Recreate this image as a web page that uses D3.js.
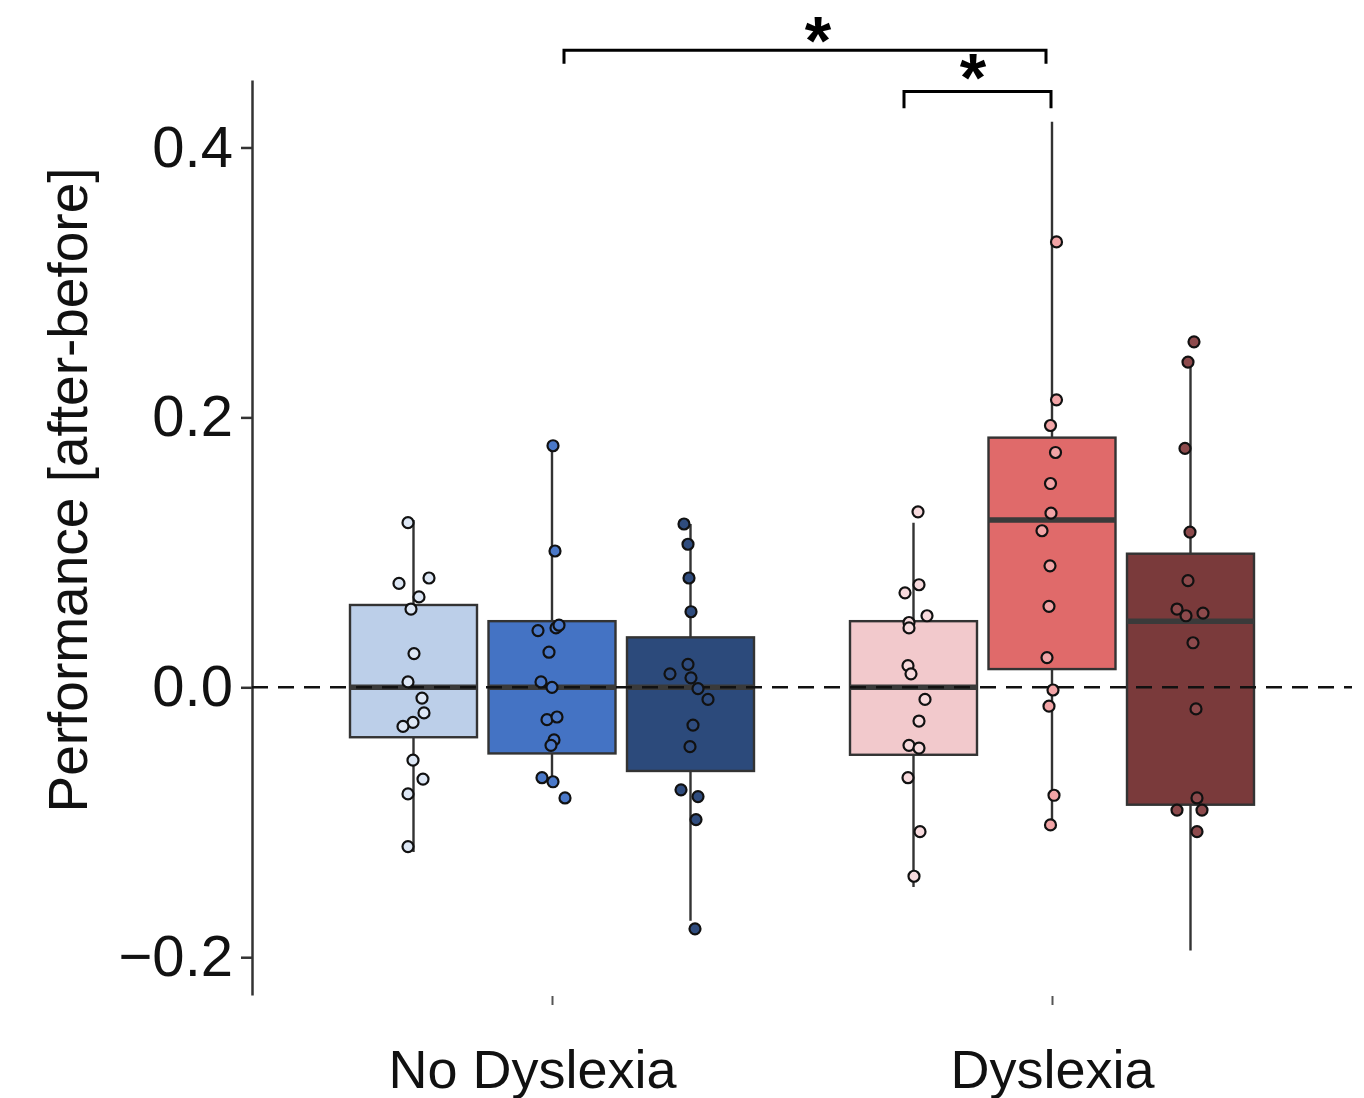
<!DOCTYPE html>
<html lang="en">
<head>
    <meta charset="UTF-8">
    <script src="https://d3js.org/d3.v7.min.js"></script>
    <style>
        body { margin: 0; background: #fff; }
        text { font-family: "Liberation Sans", Arial, sans-serif; }
    </style>
    <title>Performance boxplot</title>
</head>
<body>
    <div id="chart"></div>
    <script>

        // groups on the x axis, three conditions per group
        const groups = ["No Dyslexia", "Dyslexia"];
        const condOffsets = [-0.277, 0, 0.277];

        // box stats (lo whisker, q1, median, q3, hi whisker)
        const boxLo  = [-0.122, -0.071, -0.173, -0.148, -0.099, -0.195];
        const boxQ1  = [-0.037, -0.049, -0.062, -0.050, 0.0135, -0.087];
        const boxMed = [0.000, 0.000, 0.000, 0.000, 0.124, 0.049];
        const boxQ3  = [0.061, 0.049, 0.037, 0.049, 0.185, 0.099];
        const boxHi  = [0.124, 0.179, 0.121, 0.122, 0.419, 0.241];

        // individual participants (value) and horizontal jitter (x units)
        const pts1 = [0.122, 0.077, 0.081, 0.067, 0.058, 0.025, 0.004, -0.008, -0.019, -0.026, -0.029, -0.054, -0.068, -0.079, -0.118];
        const jit1 = [-0.011, -0.029, 0.031, 0.011, -0.005, 0.001, -0.011, 0.017, 0.021, -0.001, -0.021, -0.001, 0.019, -0.011, -0.011];
        const pts2 = [0.179, 0.101, 0.042, 0.044, 0.046, 0.026, 0.004, 0.000, -0.024, -0.022, -0.039, -0.043, -0.067, -0.070, -0.082];
        const jit2 = [0.002, 0.006, -0.028, 0.008, 0.014, -0.006, -0.022, 0, -0.010, 0.010, 0.004, -0.002, -0.020, 0.002, 0.026];
        const pts3 = [0.121, 0.106, 0.081, 0.056, 0.017, 0.010, 0.007, -0.001, -0.009, -0.028, -0.044, -0.076, -0.081, -0.098, -0.179];
        const jit3 = [-0.013, -0.005, -0.003, 0.001, -0.005, -0.041, 0.001, 0.015, 0.035, 0.005, -0.001, -0.019, 0.015, 0.011, 0.009];
        const pts4 = [0.130, 0.076, 0.070, 0.053, 0.048, 0.044, 0.016, 0.010, -0.009, -0.025, -0.043, -0.045, -0.067, -0.107, -0.140];
        const jit4 = [0.009, 0.011, -0.017, 0.027, -0.009, -0.009, -0.011, -0.005, 0.023, 0.011, -0.009, 0.011, -0.011, 0.013, 0.001];
        const pts5 = [0.330, 0.213, 0.194, 0.174, 0.151, 0.129, 0.116, 0.090, 0.060, 0.022, -0.002, -0.014, -0.080, -0.102];
        const jit5 = [0.009, 0.009, -0.003, 0.007, -0.003, -0.002, -0.020, -0.004, -0.006, -0.010, 0.002, -0.006, 0.004, -0.003];
        const pts6 = [0.256, 0.241, 0.177, 0.115, 0.079, 0.058, 0.053, 0.055, 0.033, -0.016, -0.082, -0.091, -0.091, -0.107];
        const jit6 = [0.007, -0.005, -0.011, -0.001, -0.005, -0.027, -0.009, 0.025, 0.005, 0.011, 0.013, -0.027, 0.023, 0.013];

        const boxFill = ["#bccfe9", "#4473c4", "#2c4a7b", "#f2c9cc", "#e06a6a", "#7a3a3b"];
        const ptFill  = ["#dde7f5", "#4a78c8", "#2f4c7e", "#f7dadd", "#f2a4a6", "#8d4a4c"];

        const yTicks = [-0.2, 0, 0.2, 0.4];

        // significance brackets: xmin, xmax, bar y, leg end y, star x, star y
        const brackets = [
            { xmin: 1.024, xmax: 1.988, y: 0.472, tip: 0.462, sx: 1.532, sy: 0.4867, label: "*" },
            { xmin: 1.704, xmax: 1.998, y: 0.4415, tip: 0.429, sx: 1.842, sy: 0.459, label: "*" }
        ];

        const allPts = [pts1, pts2, pts3, pts4, pts5, pts6];
        const allJit = [jit1, jit2, jit3, jit4, jit5, jit6];

        const boxes = boxLo.map((lo, i) => ({
            g: Math.floor(i / 3),
            c: i % 3,
            lo: lo, q1: boxQ1[i], med: boxMed[i], q3: boxQ3[i], hi: boxHi[i],
            fill: boxFill[i]
        }));

        const W = 1364, H = 1098;
        const boxWidth = 0.254;

        const svg = d3.select("#chart")
            .append("svg")
            .attr("width", W)
            .attr("height", H);

        const x = d3.scaleLinear()
            .domain([0.4, 2.6])
            .range([252, 1352]);

        const y = d3.scaleLinear()
            .domain([-0.228, 0.45])
            .range([995, 80]);

        const xc = b => 1 + b.g + condOffsets[b.c];

        // y axis
        const yAxis = svg.append("g")
            .attr("transform", "translate(252,0)")
            .call(d3.axisLeft(y).tickValues(yTicks).tickFormat(d3.format(".1f"))
                .tickSize(11).tickSizeOuter(0).tickPadding(8));
        yAxis.select(".domain").attr("stroke", "#333").attr("stroke-width", 2.5);
        yAxis.selectAll(".tick line").attr("stroke", "#333").attr("stroke-width", 2.5);
        yAxis.selectAll(".tick text")
            .attr("font-size", 58)
            .attr("fill", "#111")
            .attr("font-family", "Liberation Sans, Arial, sans-serif");

        // x axis (ticks and labels only)
        const xAxis = svg.append("g")
            .attr("transform", "translate(0,996)")
            .call(d3.axisBottom(x).tickValues([1, 2]).tickFormat(d => groups[d - 1])
                .tickSize(9).tickSizeOuter(0).tickPadding(45));
        xAxis.select(".domain").remove();
        xAxis.selectAll(".tick line").attr("stroke", "#555").attr("stroke-width", 2);
        xAxis.selectAll(".tick text")
            .attr("font-size", 54)
            .attr("fill", "#111")
            .attr("dx", (d, i) => i === 0 ? -20 : 0)
            .attr("font-family", "Liberation Sans, Arial, sans-serif");

        // y title
        svg.append("text")
            .attr("transform", "translate(87,490) rotate(-90)")
            .attr("text-anchor", "middle")
            .attr("font-size", 55)
            .attr("fill", "#111")
            .text("Performance [after-before]");

        // whiskers
        svg.selectAll(".whisker")
            .data(boxes)
            .join("line")
            .attr("class", "whisker")
            .attr("x1", d => x(xc(d)))
            .attr("x2", d => x(xc(d)))
            .attr("y1", d => y(d.lo))
            .attr("y2", d => y(d.hi))
            .attr("stroke", "#333")
            .attr("stroke-width", 2.4);

        // boxes
        svg.selectAll(".box")
            .data(boxes)
            .join("rect")
            .attr("class", "box")
            .attr("x", d => x(xc(d) - boxWidth / 2))
            .attr("width", d => x(boxWidth) - x(0))
            .attr("y", d => y(d.q3))
            .attr("height", d => y(d.q1) - y(d.q3))
            .attr("fill", d => d.fill)
            .attr("stroke", "#333")
            .attr("stroke-width", 2.4);

        // medians
        svg.selectAll(".median")
            .data(boxes)
            .join("line")
            .attr("class", "median")
            .attr("x1", d => x(xc(d) - boxWidth / 2))
            .attr("x2", d => x(xc(d) + boxWidth / 2))
            .attr("y1", d => y(d.med))
            .attr("y2", d => y(d.med))
            .attr("stroke", "#3a3a3a")
            .attr("stroke-width", 5.5);

        // zero reference line
        svg.append("line")
            .attr("x1", x(0.4))
            .attr("x2", x(2.6))
            .attr("y1", y(0))
            .attr("y2", y(0))
            .attr("stroke", "#111")
            .attr("stroke-width", 2.5)
            .attr("stroke-dasharray", "16,10");

        // jittered points
        const points = [];
        boxes.forEach((b, i) => {
            allPts[i].forEach((v, k) => {
                points.push({ x: xc(b) + allJit[i][k], v: v, fill: ptFill[i] });
            });
        });

        svg.selectAll(".pt")
            .data(points)
            .join("circle")
            .attr("class", "pt")
            .attr("cx", d => x(d.x))
            .attr("cy", d => y(d.v))
            .attr("r", 5.5)
            .attr("fill", d => d.fill)
            .attr("stroke", "#111")
            .attr("stroke-width", 2.2);

        // significance brackets
        const br = svg.selectAll(".bracket")
            .data(brackets)
            .join("g")
            .attr("class", "bracket");

        br.append("path")
            .attr("fill", "none")
            .attr("stroke", "#000")
            .attr("stroke-width", 3)
            .attr("d", d => d3.line()([
                [x(d.xmin), y(d.tip)],
                [x(d.xmin), y(d.y)],
                [x(d.xmax), y(d.y)],
                [x(d.xmax), y(d.tip)]
            ]));

        br.append("text")
            .attr("x", d => x(d.sx))
            .attr("y", d => y(d.sy))
            .attr("dy", "0.487em")
            .attr("text-anchor", "middle")
            .attr("font-size", 68)
            .attr("font-weight", "bold")
            .attr("fill", "#000")
            .text(d => d.label);

    </script>
</body>
</html>
